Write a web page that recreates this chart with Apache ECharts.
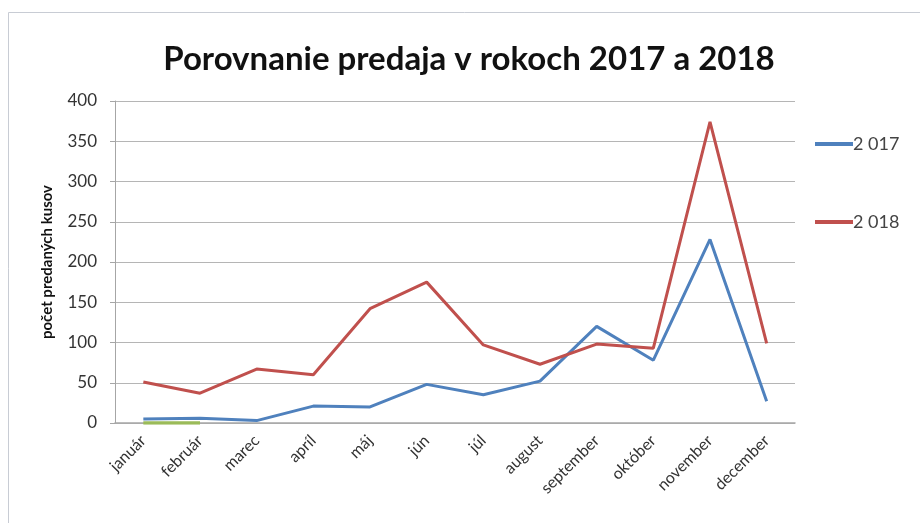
<!DOCTYPE html>
<html><head><meta charset="utf-8">
<script src="https://cdn.jsdelivr.net/npm/echarts@6/dist/echarts.min.js"></script>
<style>html,body{margin:0;padding:0;background:#fff}#c{width:920px;height:523px}</style>
</head><body><div id="c"></div>
<script>
const months = ['január','február','marec','apríl','máj','jún','júl','august','september','október','november','december'];
const sales2017 = [5, 6, 3, 21, 20, 48, 35, 52, 120, 78, 228, 27];
const sales2018 = [51, 37, 67, 60, 142, 175, 97, 73, 98, 93, 374, 99];
const extra = [0, 0];
const yTicks = [0, 50, 100, 150, 200, 250, 300, 350, 400];

const chart = echarts.init(document.getElementById('c'));
chart.setOption({
  animation: false,
  backgroundColor: '#fff',
  graphic: [{type:'rect', shape:{x:8.5,y:12.5,width:930,height:530}, style:{fill:'none', stroke:'#c8ccd4', lineWidth:1}}],
  title: {text:'Porovnanie predaja v rokoch 2017 a 2018', left: 464, top: 38, textAlign:'center',
    textStyle:{fontFamily:'Lato', fontSize:33, fontWeight:'bold', color:'#111'}},
  legend: {orient:'vertical', left: 810, top: 130, itemGap: 60, itemWidth: 38, itemHeight: 4, icon:'rect',
    data:['2 017','2 018'], textStyle:{fontFamily:'Lato', fontSize:18, color:'#444', padding:[0,0,0,-5]}},
  grid: {left:115, right:125, top:101, bottom:100},
  xAxis: {type:'category', data: months, boundaryGap:true,
    axisLine:{lineStyle:{color:'#a6a6a6', width:1.5}}, axisTick:{show:false},
    axisLabel:{rotate:45, fontFamily:'Lato', fontSize:16, color:'#333', margin:15, interval:0}},
  yAxis: {type:'value', min:0, max:400, interval:50,
    name:'počet predaných kusov', nameLocation:'middle', nameGap:60, nameRotate:90,
    nameTextStyle:{fontFamily:'Lato', fontSize:15, fontWeight:'bold', color:'#111'},
    axisLine:{show:true, lineStyle:{color:'#a6a6a6'}}, axisTick:{show:true, length:5, lineStyle:{color:'#a6a6a6'}},
    axisLabel:{fontFamily:'Lato', fontSize:17, color:'#333', margin:18},
    splitLine:{lineStyle:{color:'#b5b5b5', width:1}}},
  series: [
    {name:'extra', type:'line', data: extra, showSymbol:false, lineStyle:{color:'#9bbb59', width:3.5}, itemStyle:{color:'#9bbb59'}, z:1},
    {name:'2 017', type:'line', data: sales2017, showSymbol:false, lineStyle:{color:'#4f81bd', width:3}, itemStyle:{color:'#4f81bd'}, z:2},
    {name:'2 018', type:'line', data: sales2018, showSymbol:false, lineStyle:{color:'#c0504d', width:3}, itemStyle:{color:'#c0504d'}, z:3}
  ]
});
</script></body></html>
